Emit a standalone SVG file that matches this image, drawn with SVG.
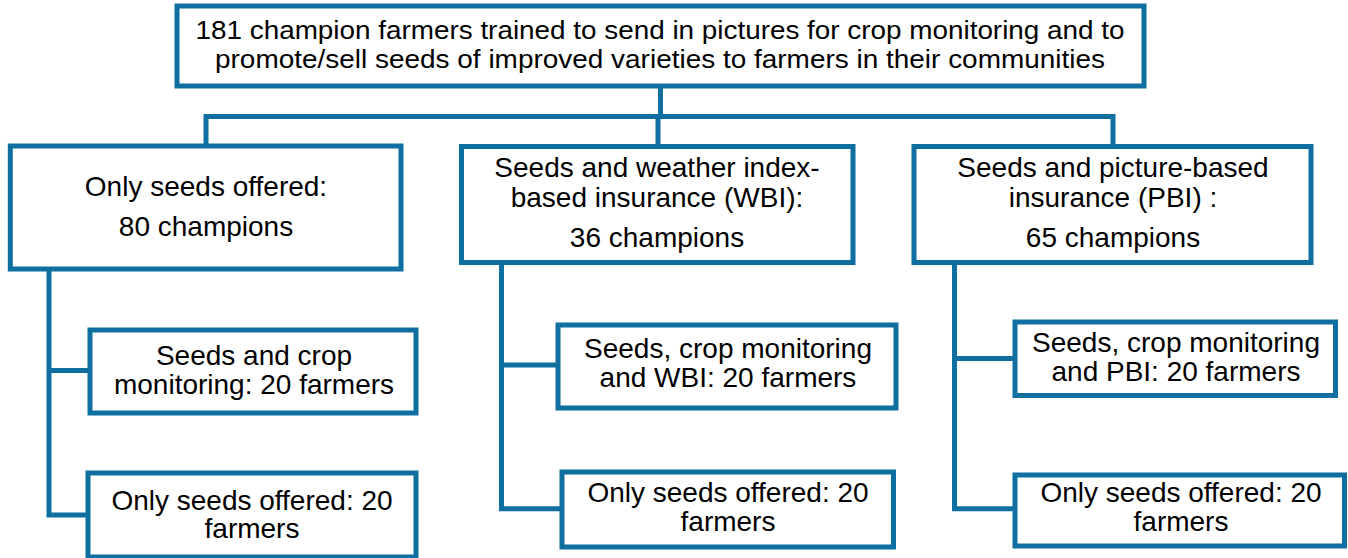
<svg xmlns="http://www.w3.org/2000/svg" width="1348" height="558" viewBox="0 0 1348 558">
<style>
.box{fill:#fff;stroke:#0f6fa0;stroke-width:5}
.con{fill:none;stroke:#0f6fa0;stroke-width:5;stroke-linejoin:miter}
text{font-family:"Liberation Sans",Arial,sans-serif;font-size:28px;fill:#000;text-anchor:middle}
.tt{font-size:25.5px}
</style>
<rect width="1348" height="558" fill="#fff"/>
<g id="connectors">
<path class="con" d="M660.5,86 V116.5"/>
<path class="con" d="M206,146 V116.5 H1113 V146.5"/>
<path class="con" d="M658,116.5 V146.5"/>
<path class="con" d="M49,269 V515 H88 M49,370.5 H90"/>
<path class="con" d="M501.5,261.5 V508.7 H562 M501.5,365 H558"/>
<path class="con" d="M954.5,261.5 V508.7 H1015 M954.5,358.5 H1015"/>
</g>
<g id="top">
<rect class="box" x="177" y="6" width="967" height="80"/>
<text class="tt" x="660" y="39" textLength="929" lengthAdjust="spacingAndGlyphs">181 champion farmers trained to send in pictures for crop monitoring and to</text>
<text class="tt" x="660" y="67.5" textLength="890" lengthAdjust="spacingAndGlyphs">promote/sell seeds of improved varieties to farmers in their communities</text>
</g>
<g id="seeds">
<rect class="box" x="10.3" y="146" width="390.7" height="123"/>
<text x="206" y="196">Only seeds offered:</text>
<text x="206" y="236">80 champions</text>
</g>
<g id="wbi">
<rect class="box" x="461.5" y="146.5" width="391.5" height="116"/>
<text x="657" y="177">Seeds and weather index-</text>
<text x="657" y="207">based insurance (WBI):</text>
<text x="657" y="247">36 champions</text>
</g>
<g id="pbi">
<rect class="box" x="914" y="146.5" width="397" height="116"/>
<text x="1113" y="177">Seeds and picture-based</text>
<text x="1113" y="207">insurance (PBI) :</text>
<text x="1113" y="247">65 champions</text>
</g>
<g id="seeds-crop">
<rect class="box" x="90" y="330" width="326" height="83"/>
<text x="254" y="365">Seeds and crop</text>
<text x="254" y="394">monitoring: 20 farmers</text>
</g>
<g id="seeds-only-1">
<rect class="box" x="88" y="473" width="328" height="84"/>
<text x="252" y="510">Only seeds offered: 20</text>
<text x="252" y="538">farmers</text>
</g>
<g id="wbi-crop">
<rect class="box" x="558" y="325" width="338" height="83"/>
<text x="728" y="358">Seeds, crop monitoring</text>
<text x="728" y="387">and WBI: 20 farmers</text>
</g>
<g id="seeds-only-2">
<rect class="box" x="562" y="472" width="331.5" height="75"/>
<text x="728" y="502">Only seeds offered: 20</text>
<text x="728" y="531">farmers</text>
</g>
<g id="pbi-crop">
<rect class="box" x="1015" y="322" width="320.5" height="73.5"/>
<text x="1176" y="352">Seeds, crop monitoring</text>
<text x="1176" y="381">and PBI: 20 farmers</text>
</g>
<g id="seeds-only-3">
<rect class="box" x="1015" y="475" width="329.5" height="71"/>
<text x="1181" y="502">Only seeds offered: 20</text>
<text x="1181" y="531">farmers</text>
</g>
</svg>
